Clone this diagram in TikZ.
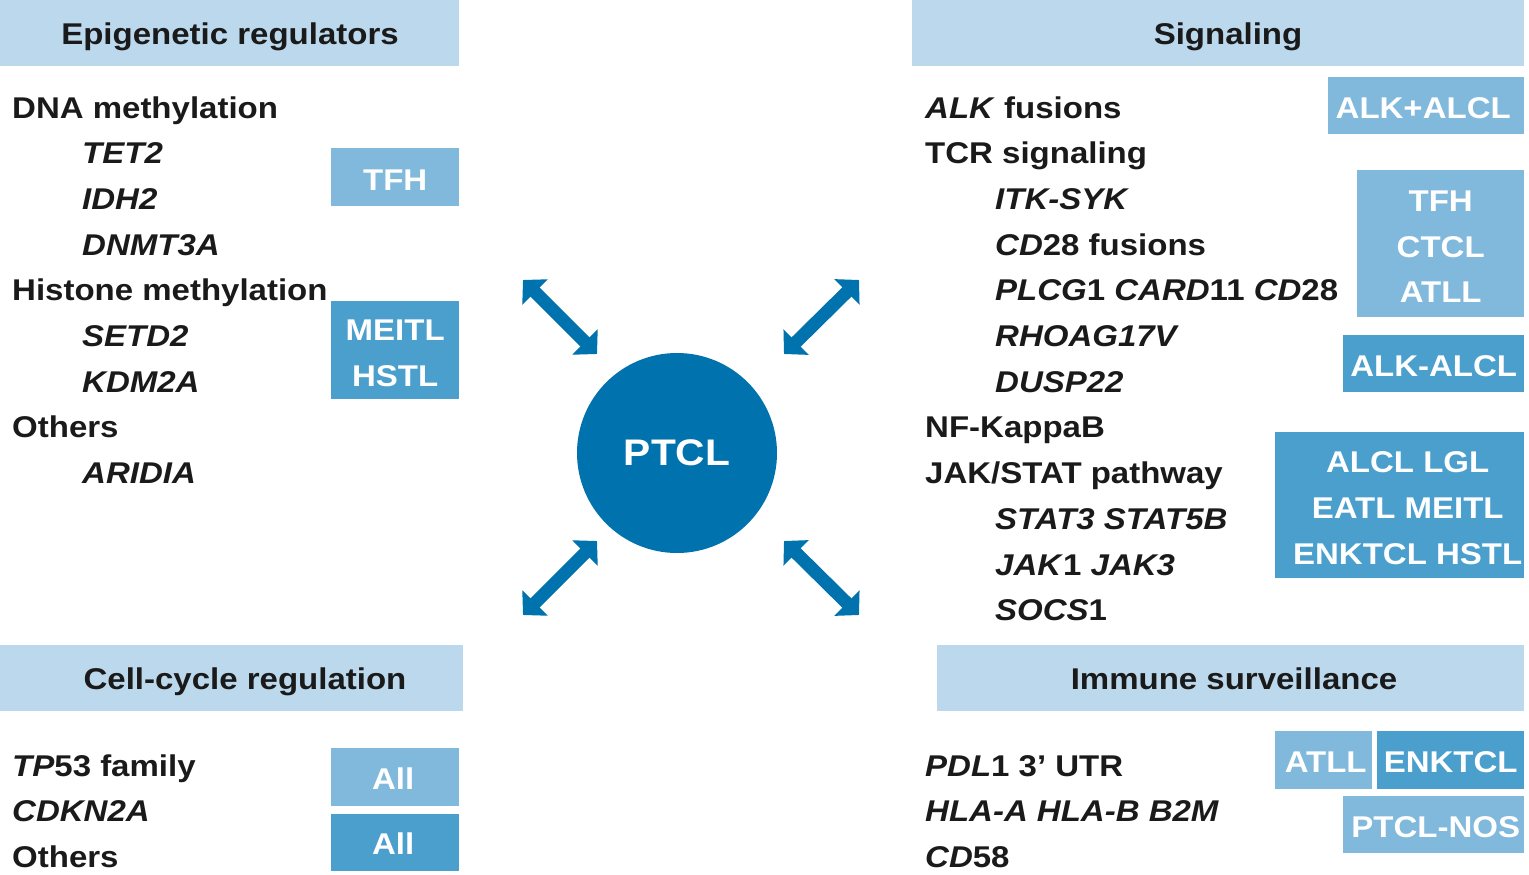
\documentclass[tikz,border=0pt]{standalone}
\usepackage{fontspec}
\setmainfont{Liberation Sans}[FakeStretch=1.1]
\usetikzlibrary{arrows.meta}
\definecolor{hdr}{RGB}{187,216,236}
\definecolor{lightbox}{RGB}{128,185,220}
\definecolor{darkbox}{RGB}{74,159,205}
\definecolor{ptblue}{RGB}{0,114,174}
\definecolor{txt}{RGB}{26,26,26}
\begin{document}
\begin{tikzpicture}[x=1pt,y=-1pt,
  bodyfont/.style={font=\fontsize{30}{45.7}\selectfont\bfseries},
  hdrbox/.style={fill=hdr, draw=none, inner sep=0pt, anchor=north west},
  hdrtext/.style={bodyfont, text=txt, inner sep=0pt, anchor=base},
  item/.style={bodyfont, text=txt, inner sep=0pt, anchor=base west},
  lbox/.style={fill=lightbox, draw=none, inner sep=0pt, anchor=north west},
  dbox/.style={fill=darkbox, draw=none, inner sep=0pt, anchor=north west},
  boxtext/.style={text=white, bodyfont, align=center, inner sep=0pt},
  ptarrow/.style={draw=ptblue, line width=13pt,
    {Triangle[length=17pt,width=35pt]}-{Triangle[length=17pt,width=35pt]}}
]
\useasboundingbox (0,0) rectangle (1529,875);

% header boxes
\node[hdrbox, minimum width=459pt, minimum height=66pt] (h1) at (0,0) {};
\node[hdrbox, minimum width=612pt, minimum height=66pt] (h2) at (912,0) {};
\node[hdrbox, minimum width=463pt, minimum height=66pt] (h3) at (0,645) {};
\node[hdrbox, minimum width=587pt, minimum height=66pt] (h4) at (937,645) {};
\node[hdrtext] (t1) at (230,45) {Epigenetic regulators};
\node[hdrtext] (t2) at (1228,45) {Signaling};
\node[hdrtext] (t3) at (245,689) {Cell-cycle regulation};
\node[hdrtext] (t4) at (1234,689) {Immune surveillance};

% left column
\node[item] (l1) at (12,118) {DNA methylation};
\node[item] (l2) at (82,163.7) {\itshape TET2};
\node[item] (l3) at (82,209.4) {\itshape IDH2};
\node[item] (l4) at (82,255.1) {\itshape DNMT3A};
\node[item] (l5) at (12,300.8) {Histone methylation};
\node[item] (l6) at (82,346.5) {\itshape SETD2};
\node[item] (l7) at (82,392.2) {\itshape KDM2A};
\node[item] (l8) at (12,437.9) {Others};
\node[item] (l9) at (82,483.6) {\itshape ARIDIA};

\node[lbox, minimum width=128pt, minimum height=58pt] (b1) at (331,148) {};
\node[boxtext] (b1t) at ([yshift=-2.5pt]b1.center) {TFH};
\node[dbox, minimum width=128pt, minimum height=98pt] (b2) at (331,301) {};
\node[boxtext] (b2t) at ([yshift=-3pt]b2.center) {MEITL\\HSTL};

% bottom left
\node[item] (c1) at (12,776) {\textit{TP}53 family};
\node[item] (c2) at (12,821) {\itshape CDKN2A};
\node[item] (c3) at (12,867) {Others};
\node[lbox, minimum width=128pt, minimum height=58pt] (b3) at (331,748) {};
\node[boxtext] (b3t) at ([xshift=-2pt,yshift=-1pt]b3.center) {All};
\node[dbox, minimum width=128pt, minimum height=57pt] (b4) at (331,814) {};
\node[boxtext] (b4t) at ([xshift=-2pt,yshift=-1pt]b4.center) {All};

% right column
\node[item] (r1) at (925,118) {\textit{ALK} fusions};
\node[item] (r2) at (925,163.7) {TCR signaling};
\node[item] (r3) at (995,209.4) {\itshape ITK-SYK};
\node[item] (r4) at (995,255.1) {\textit{CD}28 fusions};
\node[item] (r5) at (995,300.8) {\textit{PLCG}1 \textit{CARD}11 \textit{CD}28};
\node[item] (r6) at (995,346.5) {\itshape RHOAG17V};
\node[item] (r7) at (995,392.2) {\itshape DUSP22};
\node[item] (r8) at (925,437.9) {NF-KappaB};
\node[item] (r9) at (925,483.6) {JAK/STAT pathway};
\node[item] (r10) at (995,529.3) {\itshape STAT3 STAT5B};
\node[item] (r11) at (995,575) {\textit{JAK}1 \textit{JAK3}};
\node[item] (r12) at (995,620.7) {\textit{SOCS}1};

\node[lbox, minimum width=196pt, minimum height=57pt] (b5) at (1328,77) {};
\node[boxtext] (b5t) at ([xshift=-3pt,yshift=-2pt]b5.center) {ALK+ALCL};
\node[lbox, minimum width=167pt, minimum height=147pt] (b6) at (1357,170) {};
\node[boxtext] (b6t) at ([yshift=-3pt]b6.center) {TFH\\CTCL\\ATLL};
\node[dbox, minimum width=181pt, minimum height=57pt] (b7) at (1343,335) {};
\node[boxtext] (b7t) at ([yshift=-2pt]b7.center) {ALK-ALCL};
\node[dbox, minimum width=249pt, minimum height=146pt] (b8) at (1275,432) {};
\node[boxtext] (b8t) at ([xshift=8pt,yshift=-3pt]b8.center) {ALCL LGL\\EATL MEITL\\ENKTCL HSTL};

% bottom right
\node[item] (s1) at (925,776) {\textit{PDL}1 3’ UTR};
\node[item] (s2) at (925,821) {\itshape HLA-A HLA-B B2M};
\node[item] (s3) at (925,867) {\textit{CD}58};
\node[lbox, minimum width=97pt, minimum height=58pt] (b9) at (1275,731) {};
\node[boxtext] (b9t) at ([xshift=2pt,yshift=-2pt]b9.center) {ATLL};
\node[dbox, minimum width=147pt, minimum height=58pt] (b10) at (1377,731) {};
\node[boxtext] (b10t) at ([yshift=-2pt]b10.center) {ENKTCL};
\node[lbox, minimum width=181pt, minimum height=57pt] (b11) at (1343,796) {};
\node[boxtext] (b11t) at ([xshift=2pt,yshift=-2pt]b11.center) {PTCL-NOS};

% centre
\node[circle, fill=ptblue, draw=none, minimum size=200pt, inner sep=0pt, text=white,
  font=\fontsize{37}{44}\selectfont\bfseries] (ptcl) at (677,453) {PTCL};

\coordinate (a1s) at (523,280); \coordinate (a1e) at (597,354);
\coordinate (a2s) at (859,280); \coordinate (a2e) at (784,354);
\coordinate (a3s) at (597,541); \coordinate (a3e) at (523,615);
\coordinate (a4s) at (784,541); \coordinate (a4e) at (859,615);
\draw[ptarrow] (a1s) -- (a1e);
\draw[ptarrow] (a2s) -- (a2e);
\draw[ptarrow] (a3s) -- (a3e);
\draw[ptarrow] (a4s) -- (a4e);
\end{tikzpicture}
\end{document}
